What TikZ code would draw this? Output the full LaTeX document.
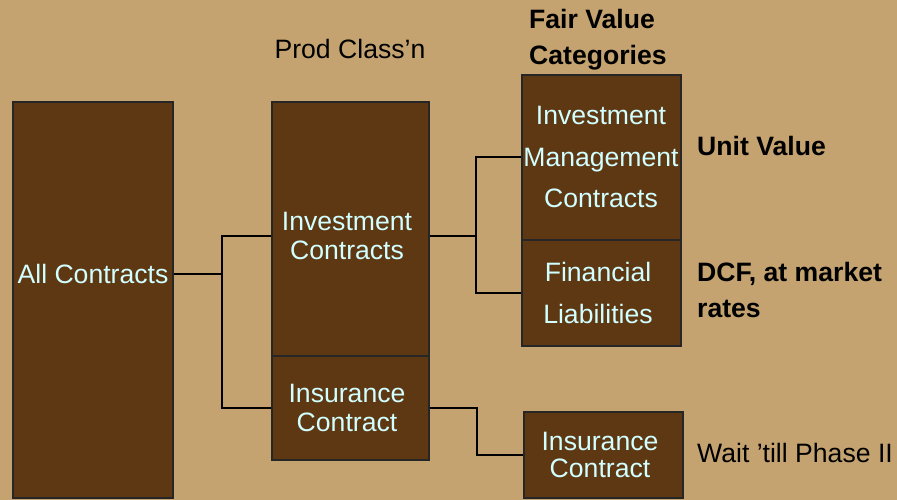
\documentclass[tikz,border=0pt]{standalone}
\usepackage{fontspec}
\setmainfont{Liberation Sans}
\usetikzlibrary{positioning}
\definecolor{bgtan}{HTML}{C4A370}
\definecolor{boxbrown}{HTML}{5E3812}
\definecolor{boxtext}{HTML}{D2FFFF}

\begin{document}
\begin{tikzpicture}[x=1pt,y=-1pt,
  box/.style={draw=black!85,line width=1.2pt,fill=boxbrown,inner sep=0pt},
  intxt/.style={text=boxtext,align=center,inner sep=0pt,font=\fontsize{26.6}{29}\selectfont},
  widetxt/.style={intxt,font=\fontsize{26.6}{41.5}\selectfont},
  side/.style={inner sep=0pt,anchor=west,align=left,font=\fontsize{26.6}{36}\selectfont},
  sidebf/.style={side,font=\fontsize{26.6}{36}\selectfont\bfseries},
  link/.style={draw=black,line width=2pt}]
\fill[bgtan] (0,0) rectangle (897,500);
% boxes
\node[box,minimum width=160pt,minimum height=396pt] (all) at (93,300) {};
\node[box,minimum width=157pt,minimum height=254pt] (inv) at (350.5,229) {};
\node[box,minimum width=157pt,minimum height=104pt] (ins) at (350.5,408) {};
\node[box,minimum width=159pt,minimum height=165pt] (imc) at (601.5,157.5) {};
\node[box,minimum width=159pt,minimum height=106pt] (fin) at (601.5,293) {};
\node[box,minimum width=159pt,minimum height=86pt] (ins2) at (603.5,455) {};
% box texts
\node[intxt] (allt) at (93,274) {All Contracts};
\node[intxt] (invt) at (347,236) {Investment\\Contracts};
\node[intxt] (inst) at (347,408) {Insurance\\Contract};
\node[widetxt] (imct) at (601,157) {Investment\\Management\\Contracts};
\node[widetxt] (fint) at (598,293) {Financial\\Liabilities};
\node[intxt,font=\fontsize{26.6}{27.5}\selectfont] (ins2t) at (600,455) {Insurance\\Contract};
% headings and notes
\node[inner sep=0pt,font=\fontsize{26.6}{29}\selectfont] (prod) at (350,49) {Prod Class’n};
\node[sidebf] (fvc) at (529,40) {Fair Value\\Categories};
\node[sidebf] (unit) at (697,146) {Unit Value};
\node[sidebf] (dcf) at (697,290) {DCF, at market\\rates};
\node[side] (wait) at (697,453) {Wait ’till Phase II};
% connectors
\coordinate (j1) at (222,274);
\coordinate (j2) at (476,236);
\coordinate (j3) at (477,430);
\draw[link] (all.east |- allt) -- (j1);
\draw[link] (inv.west |- invt) -| (j1) |- (ins.west |- inst);
\draw[link] (inv.east |- invt) -- (j2);
\draw[link] (imc.west |- imct) -| (j2) |- (fin.west |- fint);
\draw[link] (ins.east |- inst) -| (j3) |- (ins2.west |- ins2t);
\end{tikzpicture}
\end{document}
